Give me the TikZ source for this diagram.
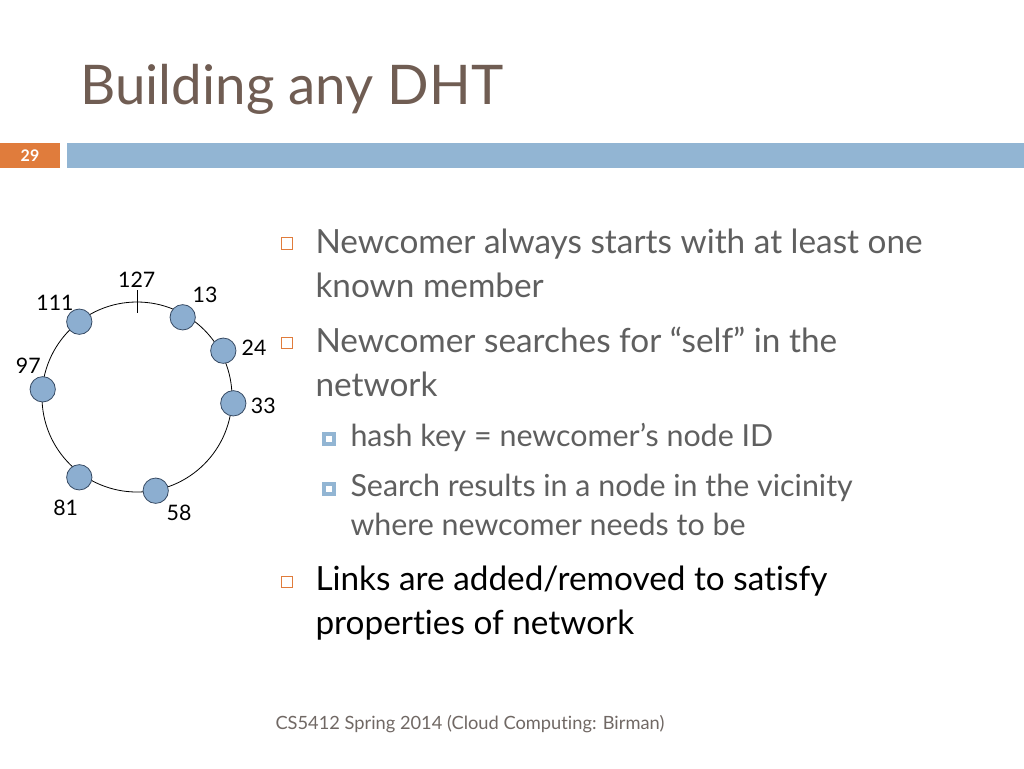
\documentclass[tikz,border=0pt]{standalone}
\usepackage{fontspec}
\setmainfont{Lato}[Ligatures=NoCommon]
\definecolor{titlebrown}{RGB}{112,93,83}
\definecolor{barorange}{RGB}{224,124,60}
\definecolor{barblue}{RGB}{146,181,211}
\definecolor{bodygray}{RGB}{95,95,95}
\definecolor{footgray}{RGB}{112,104,100}
\definecolor{memberfill}{RGB}{140,174,208}
\definecolor{memberline}{RGB}{55,75,100}
\tikzset{every picture/.style={line width=0.75pt}}
\tikzset{
  member/.style={circle,draw=memberline,fill=memberfill,line width=0.6pt,minimum size=19pt,inner sep=0pt},
  idlabel/.style={inner sep=0.75pt,font=\fontsize{16}{16}\selectfont},
  mainbullet/.style={draw=barorange,line width=0.9pt,minimum size=8.5pt,inner sep=0pt},
  subbullet/.style={fill=barblue,minimum size=11pt,inner sep=0pt,
    path picture={\fill[white] ([shift={(-2.4pt,-2.4pt)}]path picture bounding box.center) rectangle ++(4.8pt,4.8pt);}},
  maintext/.style={anchor=base west,inner sep=0pt,text=bodygray,font=\fontsize{25}{25}\selectfont},
  subtext/.style={anchor=base west,inner sep=0pt,text=bodygray,font=\fontsize{22.8}{22.8}\selectfont}
}
\begin{document}
\begin{tikzpicture}[x=0.75pt,y=0.75pt,yscale=-1,xscale=1]
\useasboundingbox (0,0) rectangle (1024,768);

% Title
\draw (80,104) node (title) [anchor=base west][inner sep=0pt][text=titlebrown,font=\fontsize{41}{41}\selectfont]    {Building any DHT};

%Shape: Rectangle [slide number bar]
\fill [barorange] (0,143) rectangle (60,168) ;
\fill [barblue] (67,143) rectangle (1024,168) ;
% Text Node
\draw (30,155.5) node (slidenum) [inner sep=0pt][text=white,font=\fontsize{12}{12}\selectfont\bfseries]    {29};

%Shape: Circle [ring]
\draw [line width=0.6pt] (137,397) circle (95) ;
%Straight Lines [tick at 127]
\coordinate (tick) at (137,302);
\draw [line width=0.6pt] (tick) ++(0,-12) -- ++(0,23) ;

% Ring members
\draw (79.3,321.7) node (m111) [member] {};
\draw (182.7,317.3) node (m13) [member] {};
\draw (223.3,350.7) node (m24) [member] {};
\draw (233.3,403.3) node (m33) [member] {};
\draw (155.7,490.7) node (m58) [member] {};
\draw (79.3,477.3) node (m81) [member] {};
\draw (42.7,389.3) node (m97) [member] {};

% Text Node
\draw (136.7,280) node (l127) [idlabel]    {127};
% Text Node
\draw (55,303.3) node (l111) [idlabel]    {111};
% Text Node
\draw (205,295) node (l13) [idlabel]    {13};
% Text Node
\draw (254,347.3) node (l24) [idlabel]    {24};
% Text Node
\draw (263.3,405.7) node (l33) [idlabel]    {33};
% Text Node
\draw (179,513.3) node (l58) [idlabel]    {58};
% Text Node
\draw (65.7,508.3) node (l81) [idlabel]    {81};
% Text Node
\draw (28.3,366) node (l97) [idlabel]    {97};

% Bullets
\draw (287,243.5) node (b1) [mainbullet] {};
\draw (287,343) node (b2) [mainbullet] {};
\draw (287,582) node (b3) [mainbullet] {};
\draw (329,439) node (s1) [subbullet] {};
\draw (329,489) node (s2) [subbullet] {};

% Text Node
\draw (315,253) node (t1a) [maintext]    {Newcomer always starts with at least one};
\draw (315,297) node (t1b) [maintext]    {known member};
% Text Node
\draw (315,352) node (t2a) [maintext]    {Newcomer searches for “self” in the};
\draw (315,396) node (t2b) [maintext]    {network};
% Text Node
\draw (350,446) node (t3) [subtext]    {hash key = newcomer’s node ID};
% Text Node
\draw (350,496) node (t4a) [subtext]    {Search results in a node in the vicinity};
\draw (350,535) node (t4b) [subtext]    {where newcomer needs to be};
% Text Node
\draw (315,590) node (t5a) [maintext,text=black]    {Links are added/removed to satisfy};
\draw (315,634) node (t5b) [maintext,text=black]    {properties of network};

% Footer
\draw (275,729) node (footer) [anchor=base west][inner sep=0pt][text=footgray,font=\fontsize{13.7}{13.7}\selectfont]    {CS5412 Spring 2014 (Cloud Computing: Birman)};

\end{tikzpicture}
\end{document}
